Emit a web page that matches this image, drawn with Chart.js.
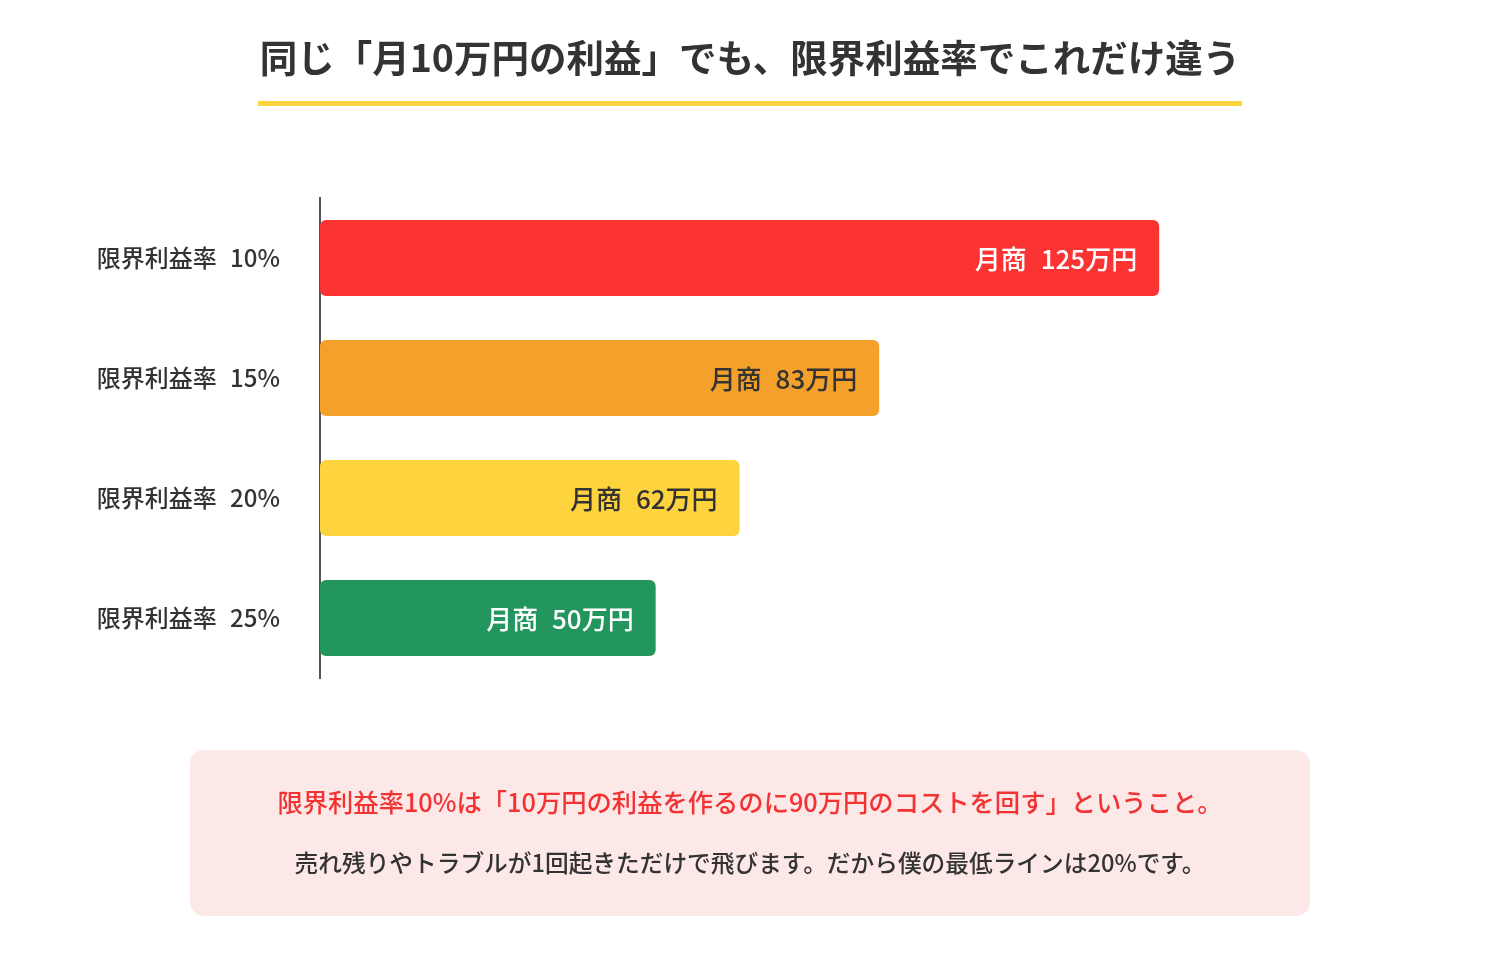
<!DOCTYPE html>
<html lang="ja">
<head>
<meta charset="utf-8">
<title>限界利益率の比較</title>
<script src="https://cdn.jsdelivr.net/npm/chart.js@4.4.1/dist/chart.umd.min.js"></script>
<style>
    html, body {
        margin: 0;
        padding: 0;
        background: #ffffff;
        font-family: "Noto Sans CJK JP", "Noto Sans", sans-serif;
    }
    #pagina {
        position: relative;
        width: 1500px;
        height: 980px;
        overflow: hidden;
    }
    #grafica {
        position: absolute;
        left: 0;
        top: 0;
    }
    #titulo {
        position: absolute;
        left: 0;
        top: 29px;
        width: 1500px;
        text-align: center;
    }
    #titulo span {
        display: inline-block;
        font-size: 37.5px;
        font-weight: 700;
        color: #333333;
        line-height: 54px;
        padding: 0 2px 18px 2px;
        border-bottom: 5px solid #fdd43e;
    }
    #nota {
        position: absolute;
        left: 190px;
        top: 750px;
        width: 1120px;
        height: 166px;
        border-radius: 14px;
        background: #fde8e8;
        text-align: center;
    }
    #nota .linea1 {
        position: absolute;
        left: 0;
        width: 100%;
        top: 33px;
        font-size: 25.3px;
        font-weight: 500;
        color: #f33333;
    }
    #nota .linea2 {
        position: absolute;
        left: 0;
        width: 100%;
        top: 95px;
        font-size: 23.7px;
        font-weight: 500;
        color: #333333;
    }
</style>
</head>
<body>
<div id="pagina">
    <canvas id="grafica" width="1500" height="980"></canvas>
    <div id="titulo"><span>同じ「月10万円の利益」でも、限界利益率でこれだけ違う</span></div>
    <div id="nota">
        <div class="linea1">限界利益率10%は「10万円の利益を作るのに90万円のコストを回す」ということ。</div>
        <div class="linea2">売れ残りやトラブルが1回起きただけで飛びます。だから僕の最低ラインは20%です。</div>
    </div>
</div>
<script>
// Datos de la grafica
const categorias = ['限界利益率 10%', '限界利益率 15%', '限界利益率 20%', '限界利益率 25%'];
const ventas = [125, 83.3, 62.5, 50];
const etiquetas = ['月商 125万円', '月商 83万円', '月商 62万円', '月商 50万円'];
const colores = ['#fc3333', '#f4a12b', '#fed43e', '#23965e'];
const coloresTexto = ['#ffffff', '#333333', '#333333', '#ffffff'];

// Un poco mas de espacio entre palabras, como en el original
const espaciado = {
    id: 'espaciado',
    beforeDraw(chart) {
        chart.ctx.wordSpacing = '8px';
    }
};

// Escribe el texto dentro de cada barra, alineado a la derecha
const textoBarras = {
    id: 'textoBarras',
    afterDatasetsDraw(chart) {
        const ctx = chart.ctx;
        const meta = chart.getDatasetMeta(0);
        ctx.save();
        ctx.wordSpacing = '8px';
        ctx.font = '500 26px "Noto Sans CJK JP", sans-serif';
        ctx.textAlign = 'right';
        ctx.textBaseline = 'middle';
        meta.data.forEach((barra, i) => {
            ctx.fillStyle = coloresTexto[i];
            ctx.fillText(etiquetas[i], barra.x - 22, barra.y + 1);
        });
        ctx.restore();
    }
};

const ctx = document.getElementById('grafica');
const myChart = new Chart(ctx, {
    type: 'bar',
    data: {
        labels: categorias,
        datasets: [{
            label: '月商',
            data: ventas,
            backgroundColor: colores,
            borderWidth: 0,
            borderRadius: 6,
            borderSkipped: false,
            barPercentage: 0.633,
            categoryPercentage: 1
        }]
    },
    options: {
        indexAxis: 'y',
        responsive: false,
        animation: false,
        layout: {
            padding: { top: 198, bottom: 302, left: 0, right: 173 }
        },
        plugins: {
            legend: { display: false },
            tooltip: { enabled: false }
        },
        scales: {
            x: {
                display: false,
                min: 0,
                max: 150
            },
            y: {
                afterFit: function(scale) {
                    scale.width = 320;   // el eje queda en x = 320
                },
                grid: { display: false, drawTicks: false },
                border: { display: true, color: '#555555', width: 2 },
                ticks: {
                    padding: 40,
                    color: '#333333',
                    font: { family: '"Noto Sans CJK JP", sans-serif', size: 24, weight: '500' }
                }
            }
        }
    },
    plugins: [espaciado, textoBarras]
});
</script>
</body>
</html>
